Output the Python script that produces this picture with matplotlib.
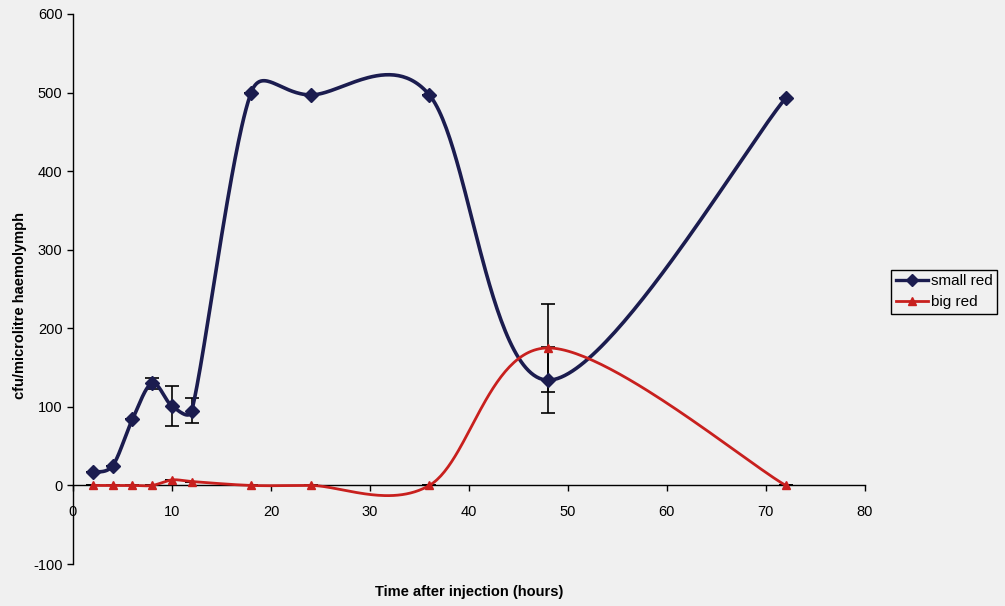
import matplotlib.pyplot as plt
from matplotlib.lines import Line2D
import numpy as np

plt.rcParams['font.family'] = ['Liberation Sans', 'DejaVu Sans']
plt.rcParams['axes.unicode_minus'] = False

# sampling times (hours after injection)
hours = [2, 4, 6, 8, 10, 12, 18, 24, 36, 48, 72]
small_red = [17, 25, 84, 130, 101, 95, 500, 497, 497, 134, 493]
small_red_err = [0, 0, 0, 7, 25, 16, 0, 0, 0, 42, 0]
big_red = [0, 0, 0, 0, 7, 5, 0, 0, 0, 175, 0]
big_red_err = [0, 0, 0, 0, 0, 0, 0, 0, 0, 56, 0]

xticks = list(range(0, 90, 10))
yticks = list(range(-100, 700, 100))

bg = '#f0f0f0'
navy = '#1b1c4f'
red = '#c8201e'


def smooth(ax, xs, ys, n=60):
    # bezier smoothing like a spreadsheet "smoothed line", done in screen units
    pts = ax.transData.transform(np.column_stack([xs, ys]).astype(float))
    P = np.vstack([pts[0], pts, pts[-1]])
    parts = []
    tt = np.linspace(0, 1, n)[:, None]
    for i in range(1, len(P) - 2):
        p0, p1, p2, p3 = P[i - 1], P[i], P[i + 1], P[i + 2]
        seg = np.hypot(*(p2 - p1))
        t1 = (p2 - p0) / 6
        t2 = (p3 - p1) / 6
        # don't let control points run past half the segment
        l1 = np.hypot(*t1)
        l2 = np.hypot(*t2)
        if l1 > seg / 2:
            t1 = t1 * (seg / 2) / l1
        if l2 > seg / 2:
            t2 = t2 * (seg / 2) / l2
        c1 = p1 + t1
        c2 = p2 - t2
        b = ((1 - tt) ** 3 * p1 + 3 * (1 - tt) ** 2 * tt * c1
             + 3 * (1 - tt) * tt ** 2 * c2 + tt ** 3 * p2)
        parts.append(b)
    curve = ax.transData.inverted().transform(np.vstack(parts))
    return curve[:, 0], curve[:, 1]


fig = plt.figure(figsize=(10.05, 6.06), dpi=100)
fig.patch.set_facecolor(bg)
ax = fig.add_axes([0.0726, 0.0693, 0.788, 0.9076])
ax.set_facecolor(bg)
ax.set_xlim(0, 80)
ax.set_ylim(-100, 600)

# error bars first so the curves sit on top
ax.errorbar(hours, small_red, yerr=small_red_err, fmt='none', ecolor='black',
            elinewidth=1.2, capsize=5, capthick=1.2, zorder=2)
ax.errorbar(hours, big_red, yerr=big_red_err, fmt='none', ecolor='black',
            elinewidth=1.2, capsize=5, capthick=1.2, zorder=2)

sx, sy = smooth(ax, hours, small_red)
ax.plot(sx, sy, color=navy, lw=2.6, zorder=3)
ax.plot(hours, small_red, ls='none', marker='D', ms=7, color=navy, zorder=4)

bx, by = smooth(ax, hours, big_red)
ax.plot(bx, by, color=red, lw=2.0, zorder=3)
ax.plot(hours, big_red, ls='none', marker='^', ms=6, color=red, zorder=4)

ax.spines['top'].set_visible(False)
ax.spines['right'].set_visible(False)
ax.spines['bottom'].set_position(('data', 0))
ax.spines['left'].set_linewidth(1.0)
ax.spines['bottom'].set_linewidth(1.0)

ax.set_xticks(xticks)
ax.set_yticks(yticks)
ax.tick_params(axis='both', direction='out', length=4, width=1, labelsize=10.5)
ax.tick_params(axis='x', pad=10)

ax.set_xlabel('Time after injection (hours)', fontsize=10.5, fontweight='bold')
ax.xaxis.set_label_coords(0.5, -0.038)
ax.set_ylabel('cfu/microlitre haemolymph', fontsize=10.5, fontweight='bold')
ax.yaxis.set_label_coords(-0.058, 0.47)

handles = [
    Line2D([], [], color=navy, lw=2.4, marker='D', ms=6),
    Line2D([], [], color=red, lw=2.0, marker='^', ms=6),
]
leg = ax.legend(handles, ['small red', 'big red'], loc='upper left',
                bbox_to_anchor=(1.033, 0.535), fontsize=11, frameon=True,
                fancybox=False, edgecolor='black', facecolor=bg, framealpha=1,
                handlelength=2.1, handletextpad=0.2, borderpad=0.3,
                labelspacing=0.45, borderaxespad=0)
leg.get_frame().set_linewidth(1.0)

fig.savefig('out.png', dpi=100, facecolor=bg)
